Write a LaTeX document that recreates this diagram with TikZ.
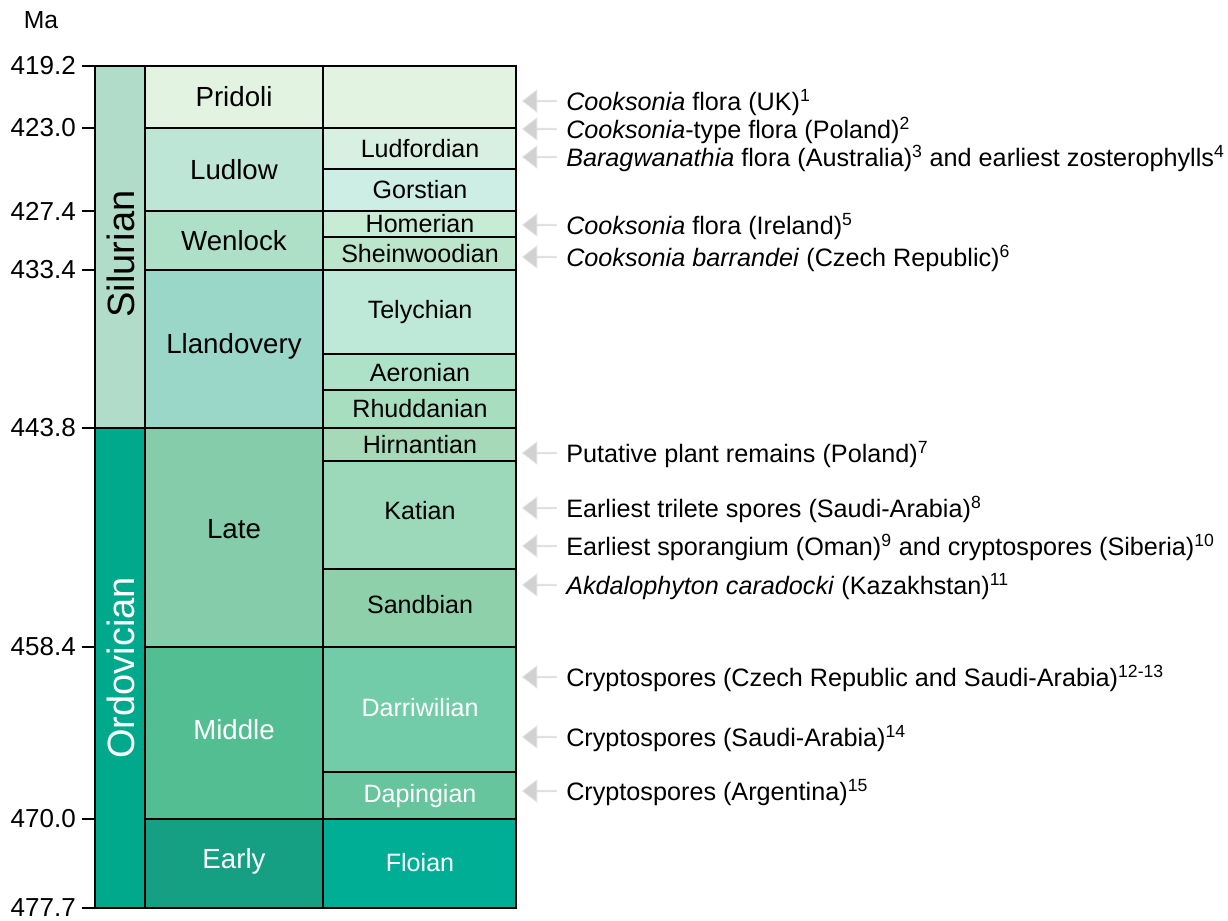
\documentclass[tikz,border=0pt]{standalone}
\usepackage{fontspec}
\setmainfont{Liberation Sans}
\usepackage{xcolor}
\usetikzlibrary{shapes.arrows}

% period / series / stage colours
\definecolor{silurianC}{HTML}{B1DCC9}
\definecolor{ordovicianC}{HTML}{00A98C}
\definecolor{pridoliC}{HTML}{E3F3E1}
\definecolor{ludlowC}{HTML}{BEE6D6}
\definecolor{wenlockC}{HTML}{AEE0C8}
\definecolor{llandoveryC}{HTML}{9BD7C8}
\definecolor{lateC}{HTML}{84CCAA}
\definecolor{middleC}{HTML}{52BE92}
\definecolor{earlyC}{HTML}{16A083}
\definecolor{ludfordianC}{HTML}{D7F0E2}
\definecolor{gorstianC}{HTML}{CDEEE4}
\definecolor{homerianC}{HTML}{C8EBD5}
\definecolor{sheinwoodianC}{HTML}{BCE6CB}
\definecolor{telychianC}{HTML}{BEE8D8}
\definecolor{aeronianC}{HTML}{ADE2C8}
\definecolor{rhuddanianC}{HTML}{A8DEC0}
\definecolor{hirnantianC}{HTML}{A6D9B8}
\definecolor{katianC}{HTML}{9CD8BA}
\definecolor{sandbianC}{HTML}{8ED0AA}
\definecolor{darriwilianC}{HTML}{72CCAA}
\definecolor{dapingianC}{HTML}{66C59C}
\definecolor{floianC}{HTML}{00AE96}

\begin{document}
\begin{tikzpicture}[
            x=0.75pt, y=-0.75pt,
            box/.style={draw=black, line width=1.3pt},
            perlbl/.style={font=\fontsize{28.5}{30}\selectfont, rotate=90},
            serlbl/.style={font=\fontsize{20.75}{22}\selectfont},
            stglbl/.style={font=\fontsize{18.8}{20}\selectfont},
            agelbl/.style={font=\fontsize{19.5}{21}\selectfont, anchor=east, inner sep=0pt},
            notelbl/.style={font=\fontsize{18.9}{20}\selectfont, anchor=base west, inner sep=0pt},
            recarrow/.style={single arrow, shape border rotate=180, fill=black!18, draw=black!10,
                line width=0.6pt, inner sep=0pt, minimum width=16.5pt, minimum height=25.5pt,
                single arrow head extend=4.1pt, single arrow tip angle=75},
        ]
        \useasboundingbox (0,0) rectangle (1228,921);
        \node[font=\fontsize{18.5}{20}\selectfont] (ma) at (41,20) {Ma};
        % periods
        \fill[silurianC, box] (95,66) rectangle (145,428);
        \fill[ordovicianC, box] (95,428) rectangle (145,908);
        \node[perlbl] (silurian) at (121,254) {Silurian};
        \node[perlbl, text=white] (ordovician) at (121,668) {Ordovician};
        % series
        \fill[pridoliC, box] (145,66) rectangle (323,128);
        \fill[ludlowC, box] (145,128) rectangle (323,211);
        \fill[wenlockC, box] (145,211) rectangle (323,270);
        \fill[llandoveryC, box] (145,270) rectangle (323,428);
        \fill[lateC, box] (145,428) rectangle (323,647);
        \fill[middleC, box] (145,647) rectangle (323,819);
        \fill[earlyC, box] (145,819) rectangle (323,908);
        \node[serlbl] (pridoli) at (234,97) {Pridoli};
        \node[serlbl] (ludlow) at (234,170) {Ludlow};
        \node[serlbl] (wenlock) at (234,241) {Wenlock};
        \node[serlbl] (llandovery) at (234,346) {Llandovery};
        \node[serlbl] (late) at (234,529) {Late};
        \node[serlbl, text=white] (middle) at (234,730) {Middle};
        \node[serlbl, text=white] (early) at (234,861) {Early};
        % stages
        \fill[pridoliC, box] (323,66) rectangle (516,128);
        \fill[ludfordianC, box] (323,128) rectangle (516,169);
        \fill[gorstianC, box] (323,169) rectangle (516,211);
        \fill[homerianC, box] (323,211) rectangle (516,237);
        \fill[sheinwoodianC, box] (323,237) rectangle (516,270);
        \fill[telychianC, box] (323,270) rectangle (516,354);
        \fill[aeronianC, box] (323,354) rectangle (516,390);
        \fill[rhuddanianC, box] (323,390) rectangle (516,428);
        \fill[hirnantianC, box] (323,428) rectangle (516,461);
        \fill[katianC, box] (323,461) rectangle (516,569);
        \fill[sandbianC, box] (323,569) rectangle (516,647);
        \fill[darriwilianC, box] (323,647) rectangle (516,772);
        \fill[dapingianC, box] (323,772) rectangle (516,819);
        \fill[floianC, box] (323,819) rectangle (516,908);
        \node[stglbl] (ludfordian) at (420,149) {Ludfordian};
        \node[stglbl] (gorstian) at (420,190) {Gorstian};
        \node[stglbl] (homerian) at (420,224) {Homerian};
        \node[stglbl] (sheinwoodian) at (420,254) {Sheinwoodian};
        \node[stglbl] (telychian) at (420,312) {Telychian};
        \node[stglbl] (aeronian) at (420,373) {Aeronian};
        \node[stglbl] (rhuddanian) at (420,409) {Rhuddanian};
        \node[stglbl] (hirnantian) at (420,445) {Hirnantian};
        \node[stglbl] (katian) at (420,511) {Katian};
        \node[stglbl] (sandbian) at (420,605) {Sandbian};
        \node[stglbl, text=white] (darriwilian) at (420,708) {Darriwilian};
        \node[stglbl, text=white] (dapingian) at (420,796) {Dapingian};
        \node[stglbl, text=white] (floian) at (420,863) {Floian};
        % age ticks
        \draw[line width=1.3pt] (82,66) -- (95,66) (82,128) -- (95,128) (82,211) -- (95,211)
            (82,270) -- (95,270) (82,428) -- (95,428) (82,647) -- (95,647)
            (82,819) -- (95,819) (82,908) -- (95,908);
        \node[agelbl] (a419) at (76,66) {419.2};
        \node[agelbl] (a423) at (76,128) {423.0};
        \node[agelbl] (a427) at (76,211) {427.4};
        \node[agelbl] (a433) at (76,270) {433.4};
        \node[agelbl] (a443) at (76,428) {443.8};
        \node[agelbl] (a458) at (76,647) {458.4};
        \node[agelbl] (a470) at (76,819) {470.0};
        \node[agelbl] (a477) at (76,908) {477.7};
        % plant records
        \node[recarrow] (r1) at (540,101) {};
        \node[recarrow] (r2) at (540,129) {};
        \node[recarrow] (r3) at (540,157) {};
        \node[recarrow] (r5) at (540,225) {};
        \node[recarrow] (r6) at (540,257) {};
        \node[recarrow] (r7) at (540,453) {};
        \node[recarrow] (r8) at (540,508) {};
        \node[recarrow] (r9) at (540,546) {};
        \node[recarrow] (r11) at (540,585) {};
        \node[recarrow] (r12) at (540,677) {};
        \node[recarrow] (r14) at (540,737) {};
        \node[recarrow] (r15) at (540,791) {};
        \node[notelbl] (n1) at (566,110) {\textit{Cooksonia} flora (UK)\textsuperscript{1}};
        \node[notelbl] (n2) at (566,138) {\textit{Cooksonia}-type flora (Poland)\textsuperscript{2}};
        \node[notelbl] (n3) at (566,166) {\textit{Baragwanathia} flora (Australia)\textsuperscript{3} and earliest zosterophylls\textsuperscript{4}};
        \node[notelbl] (n5) at (566,234) {\textit{Cooksonia} flora (Ireland)\textsuperscript{5}};
        \node[notelbl] (n6) at (566,266) {\textit{Cooksonia barrandei} (Czech Republic)\textsuperscript{6}};
        \node[notelbl] (n7) at (566,462) {Putative plant remains (Poland)\textsuperscript{7}};
        \node[notelbl] (n8) at (566,517) {Earliest trilete spores (Saudi-Arabia)\textsuperscript{8}};
        \node[notelbl] (n9) at (566,555) {Earliest sporangium (Oman)\textsuperscript{9} and cryptospores (Siberia)\textsuperscript{10}};
        \node[notelbl] (n11) at (566,594) {\textit{Akdalophyton caradocki} (Kazakhstan)\textsuperscript{11}};
        \node[notelbl] (n12) at (566,686) {Cryptospores (Czech Republic and Saudi-Arabia)\textsuperscript{12-13}};
        \node[notelbl] (n14) at (566,746) {Cryptospores (Saudi-Arabia)\textsuperscript{14}};
        \node[notelbl] (n15) at (566,800) {Cryptospores (Argentina)\textsuperscript{15}};
    \end{tikzpicture}
\end{document}
